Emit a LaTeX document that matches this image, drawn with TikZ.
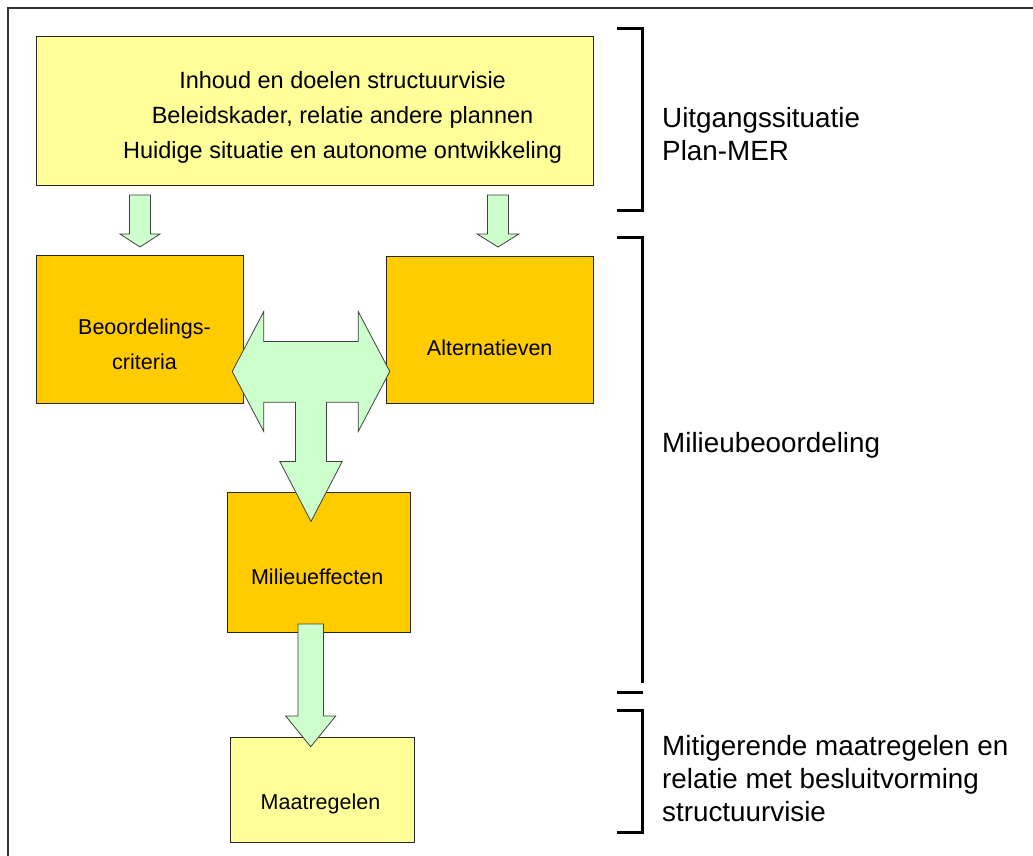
\documentclass[tikz,border=0pt]{standalone}
\usepackage{fontspec}
\setmainfont{Liberation Sans}
\usetikzlibrary{positioning, calc}

\definecolor{lightyellow}{HTML}{FFFF99}
\definecolor{gold}{HTML}{FFCC00}
\definecolor{mint}{HTML}{CCFFCC}

\tikzset{
  box/.style={draw=black!85, line width=1pt, inner sep=0pt, anchor=north west},
  yellowbox/.style={box, fill=lightyellow},
  orangebox/.style={box, fill=gold},
  boxtext/.style={inner sep=0pt, align=center, font=\fontsize{21.5}{35}\selectfont},
  sidetext/.style={inner sep=0pt, align=left, anchor=west, font=\fontsize{27.8}{33}\selectfont},
  fatarrow/.style={draw=black!75, line width=0.8pt, fill=mint, line join=miter},
  bracket/.style={line width=2.5pt, black},
  frame/.style={line width=2pt, black!80},
  pics/downarrow/.style n args={4}{code={
    \draw[fatarrow] (-#3,0) -- (#3,0) -- (#3,#1-#2) -- (#4,#1-#2) -- (0,#1)
      -- (-#4,#1-#2) -- (-#3,#1-#2) -- cycle;
  }}
}

\begin{document}
\begin{tikzpicture}[x=1pt, y=-1pt]
    \useasboundingbox (0,0) rectangle (1033,856);
    \draw[frame] (8,856) -- (8,8) -- (1033,8);

    % boxes
    \node[yellowbox, minimum width=556.7, minimum height=149] (top) at (36,36) {};
    \node[orangebox, minimum width=207.6, minimum height=148] (crit) at (35.7,255) {};
    \node[orangebox, minimum width=207, minimum height=147] (alt) at (385.7,256) {};
    \node[orangebox, minimum width=183, minimum height=140] (eff) at (227,491.7) {};
    \node[yellowbox, minimum width=183.4, minimum height=105.3] (maat) at (230.3,737) {};

    \node[boxtext, font=\fontsize{23.5}{35}\selectfont] (toptext) at ($(top.center)+(27.7,6)$) {Inhoud en doelen structuurvisie\\Beleidskader, relatie andere plannen\\Huidige situatie en autonome ontwikkeling};
    \node[boxtext] (crittext) at ($(crit.center)+(4.5,14.9)$) {Beoordelings-\\criteria};
    \node[boxtext] (alttext) at ($(alt.center)+(0,17.9)$) {Alternatieven};
    \node[boxtext] (efftext) at ($(eff.center)+(-1.8,14.8)$) {Milieueffecten};
    \node[boxtext] (maattext) at ($(maat.center)+(-2,13.8)$) {Maatregelen};

    % block arrows
    \pic at ($(top.south -| crit.center)+(0,9)$) {downarrow={52}{13}{10.5}{20}};
    \pic at ($(top.south -| alt.center)+(8.3,9)$) {downarrow={52}{13}{10.5}{20.8}};
    \pic at ($(eff.south)+(-8.3,-8.7)$) {downarrow={122.7}{30.7}{12.8}{25}};
    \coordinate (tee) at ($(crit.east)!0.5!(alt.west)+(-4,41.75)$);
    \draw[fatarrow] (tee) ++(-78.8,0) -- ++(31.6,-60) -- ++(0,30) -- ++(94.4,0)
      -- ++(0,-30) -- ++(31.6,60) -- ++(-31.6,60) -- ++(0,-29.3) -- ++(-31.7,0)
      -- ++(0,59.3) -- ++(15.7,0) -- ++(-31.2,60) -- ++(-31.2,-60) -- ++(15.7,0)
      -- ++(0,-59.3) -- ++(-31.7,0) -- ++(0,29.3) -- cycle;

    % brackets
    \draw[bracket] (617,28.3) -- (642.7,28.3) -- (642.7,210.7) -- (617,210.7);
    \draw[bracket] (617,237.7) -- (642.7,237.7) -- (642.7,683);
    \draw[bracket] (617,692.7) -- (642.7,692.7);
    \draw[bracket] (617,710.7) -- (642.7,710.7) -- (642.7,832.7) -- (617,832.7);

    \node[sidetext] (uitgang) at (662,134) {Uitgangssituatie\\Plan-MER};
    \node[sidetext] (milieu) at (662,445.2) {Milieubeoordeling};
    \node[sidetext] (mitig) at (662,778.4) {Mitigerende maatregelen en\\relatie met besluitvorming\\structuurvisie};
\end{tikzpicture}
\end{document}
